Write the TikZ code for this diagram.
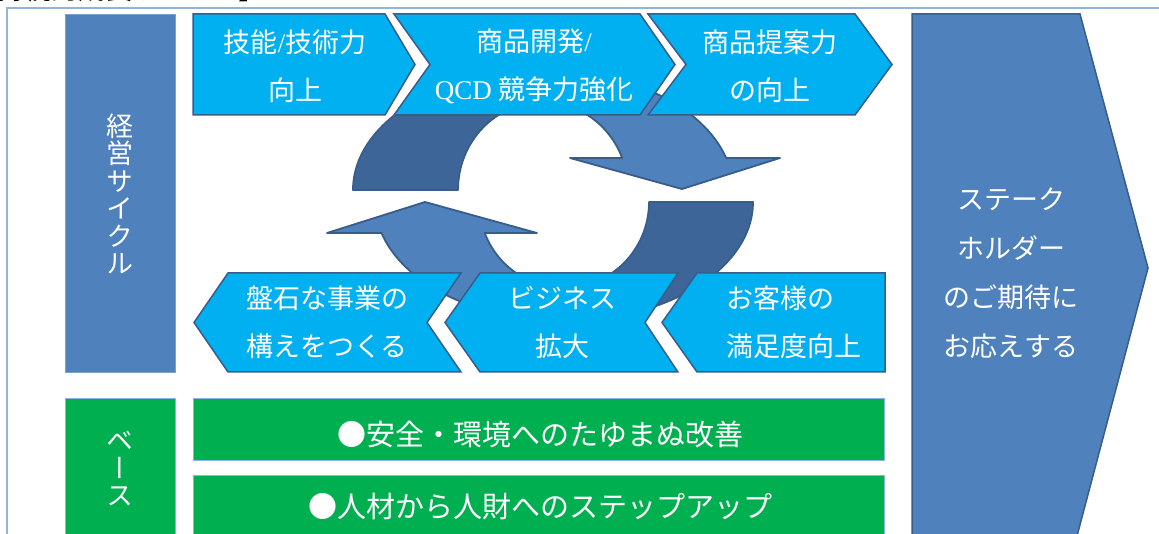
\documentclass[tikz,border=0pt]{standalone}
\usepackage{fontspec}
\newfontfamily\cjk{Noto Sans CJK JP}
\newfontfamily\cjkv{Noto Sans CJK JP}[RawFeature=+vert]
\newfontfamily\lat{Liberation Serif}
\definecolor{chev}{HTML}{00B0F0}
\definecolor{chevline}{HTML}{385D8A}
\definecolor{steel}{HTML}{4F81BD}
\definecolor{darkarc}{HTML}{3E6597}
\definecolor{grn}{HTML}{00B050}
\definecolor{frameblue}{HTML}{95B3D7}
\definecolor{grnline}{HTML}{8EB4E3}
\begin{document}
\begin{tikzpicture}[x=1pt,y=-1pt,
  chevron/.style={fill=chev,draw=chevline,line width=1.5pt,line join=miter},
  band/.style={draw=chevline,line width=1.8pt,line join=round},
  lbl/.style={text=white,align=center,inner sep=0pt,font=\cjk\fontsize{27}{48}\selectfont},
  rlbl/.style={text=white,align=center,inner sep=0pt,font=\cjk\fontsize{27}{49}\selectfont},
  glbl/.style={text=white,inner sep=0pt,font=\cjk\fontsize{29}{35}\selectfont},
  vlbl/.style={text=white,align=center,inner sep=0pt,font=\cjkv\fontsize{27}{27.5}\selectfont},
  plainbox/.style={fill=steel,draw=steel!75!white,line width=0.8pt},
  greenbox/.style={fill=grn,draw=grnline,line width=1pt}]
\useasboundingbox (0,0) rectangle (1159,534);
\fill[white] (0,0) rectangle (1159,534);
\draw[frameblue,line width=1.2pt] (7,545) -- (7,8) -- (1170,8);
\node[anchor=base east,inner sep=0pt,font=\cjk\fontsize{27}{30}\selectfont] (title) at (266,0) {持続的成長サイクル】};
% top circular arrow (curved down)
\path[band,fill=steel] ([shift={(543,190)}]-90:190 and 120) arc[start angle=-90,end angle=-15.5,x radius=190,y radius=120] -- (780,158) -- (682,189) -- (570,158) -- ([shift={(543,190)}]-21.3:85 and 88) arc[start angle=-21.3,end angle=-90,x radius=85,y radius=88] -- cycle;
\path[band,fill=darkarc] ([shift={(543,190)}]-90:190 and 120) arc[start angle=-90,end angle=-180,x radius=190,y radius=120] -- ([shift={(543,190)}]180:85 and 88) arc[start angle=180,end angle=270,x radius=85,y radius=88] -- cycle;
% bottom circular arrow (curved up)
\path[band,fill=darkarc] ([shift={(564,202)}]0:189 and 119) arc[start angle=0,end angle=90,x radius=189,y radius=119] -- ([shift={(564,202)}]90:85 and 86) arc[start angle=90,end angle=0,x radius=85,y radius=86] -- cycle;
\path[band,fill=steel] ([shift={(564,202)}]90:189 and 119) arc[start angle=90,end angle=164.9,x radius=189,y radius=119] -- (327,233) -- (425,202) -- (537,233) -- ([shift={(564,202)}]158.87:85 and 86) arc[start angle=158.87,end angle=90,x radius=85,y radius=86] -- cycle;
% top chevrons
\path[chevron] (193,14) -- (385,14) -- (415,64.5) -- (385,115) -- (193,115) -- cycle;
\path[chevron] (394,14) -- (640,14) -- (675,64.5) -- (640,115) -- (394,115) -- (430,64.5) -- cycle;
\path[chevron] (648,14) -- (855,14) -- (892,64.5) -- (855,115) -- (648,115) -- (686,64.5) -- cycle;
% bottom chevrons
\path[chevron] (194,322.5) -- (228,273) -- (461,273) -- (427,322.5) -- (461,372) -- (228,372) -- cycle;
\path[chevron] (445,322.5) -- (480,273) -- (678,273) -- (645,322.5) -- (678,372) -- (480,372) -- cycle;
\path[chevron] (662,322.5) -- (697,273) -- (885,273) -- (885,372) -- (697,372) -- cycle;
% side boxes
\path[plainbox] (65,14) rectangle (175,372);
\path[greenbox] (65,398) rectangle (175,545);
\path[greenbox] (193,398) rectangle (884,460);
\path[greenbox] (193,475) rectangle (884,545);
\path[fill=steel,draw=chevline,line width=1.5pt] (912,14) -- (1080,14) -- (1148,268) -- (1077,536) -- (1077,545) -- (912,545) -- cycle;
% labels
\node[lbl] (t1) at (295,66) {技能{\lat/}技術力\\向上};
\node[lbl] (t2) at (534,66) {商品開発{\lat/}\\{\lat QCD} 競争力強化};
\node[lbl] (t3) at (770,66) {商品提案力\\の向上};
\node[lbl] (b1) at (327,322) {盤石な事業の\\構えをつくる};
\node[lbl] (b2) at (562,322) {ビジネス\\拡大};
\node[lbl,align=left] (b3) at (794,322) {お客様の\\満足度向上};
\node[rlbl] (stake) at (1011,273) {ステーク\\ホルダー\\のご期待に\\お応えする};
\node[vlbl] (cycle) at (120,194) {経\\営\\サ\\イ\\ク\\ル};
\node[vlbl] (base) at (120,469) {ベ\\ー\\ス};
\node[glbl] (g1) at (540,435) {●安全・環境へのたゆまぬ改善};
\node[glbl] (g2) at (540,506) {●人材から人財へのステップアップ};
\end{tikzpicture}
\end{document}
